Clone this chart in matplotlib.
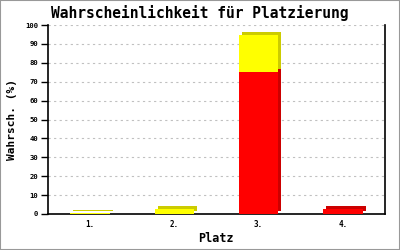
import numpy as np
import matplotlib
matplotlib.use("Agg")
import matplotlib.pyplot as plt
from matplotlib.transforms import offset_copy
from matplotlib.patches import Rectangle

plaetze = ["1.", "2.", "3.", "4."]
rot = [0.0, 0.0, 75.0, 2.6]
gelb = [0.3, 2.6, 19.5, 0.0]
yticks = list(range(0, 101, 10))

fig = plt.figure(figsize=(4, 2.5), dpi=100)
ax = fig.add_axes([0.12, 0.144, 0.8425, 0.756])
mono = "DejaVu Sans Mono"

x = np.arange(len(plaetze))
w = 0.47
shift = offset_copy(ax.transData, fig=fig, x=3, y=3, units="dots")

rot = np.array(rot)
gelb = np.array(gelb)
# dunkle "3D" Rueckseite
ax.bar(x, gelb, w, bottom=rot, color="#cccc00", transform=shift, zorder=2)
ax.bar(x, rot, w, color="#cc0000", transform=shift, zorder=2)
# Vorderseite
ax.bar(x, rot, w, color="#ff0000", zorder=3)
ax.bar(x, gelb, w, bottom=rot, color="#ffff00", zorder=3)

ax.set_xlim(-0.5, 3.5)
ax.set_ylim(0, 100)
ax.set_yticks(yticks)
ax.set_xticks(x)
ax.set_xticklabels(plaetze, family=mono, fontsize=5.5, fontweight="bold")
ax.set_yticklabels([str(t) for t in yticks], family=mono, fontsize=5.2, fontweight="bold")
ax.tick_params(axis="x", length=0, pad=4)
ax.tick_params(axis="y", length=5, width=1, pad=2)
ax.yaxis.grid(True, color="#c0c0c0", linestyle=(0, (2, 3)), linewidth=0.8)
ax.set_axisbelow(True)
ax.spines["top"].set_visible(False)
for s in ["left", "bottom", "right"]:
    ax.spines[s].set_linewidth(1.2)

fig.text(0.5, 0.948, "Wahrscheinlichkeit für Platzierung", ha="center", va="center",
         family=mono, fontsize=10.5, fontweight="bold")
fig.text(0.03, 0.52, "Wahrsch. (%)", rotation=90, ha="center", va="center",
         family=mono, fontsize=8, fontweight="bold")
fig.text(0.54, 0.048, "Platz", ha="center", va="center",
         family=mono, fontsize=8.5, fontweight="bold")

fig.patches.append(Rectangle((0, 0), 1, 1, transform=fig.transFigure, fill=False,
                             edgecolor="#999999", linewidth=1.5))
fig.savefig("out.png", dpi=100)
